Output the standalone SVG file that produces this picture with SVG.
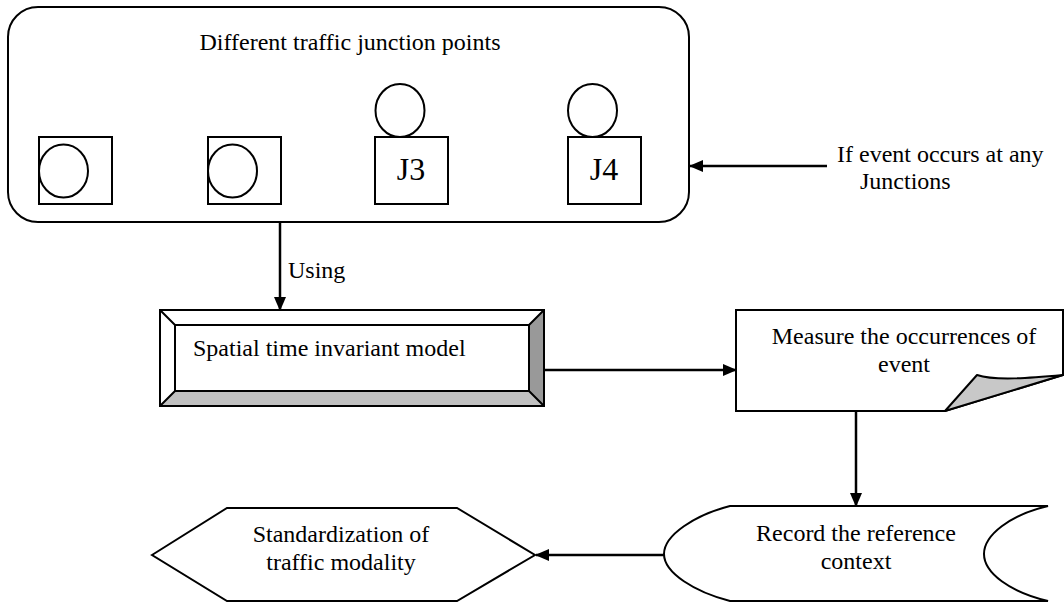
<svg xmlns="http://www.w3.org/2000/svg" width="1064" height="603" viewBox="0 0 1064 603">
<defs>
<style>
.s{fill:#fff;stroke:#000;stroke-width:2}
.n{fill:none;stroke:#000;stroke-width:2}
.t{font-family:"Liberation Serif","Times New Roman",serif;font-size:24px;fill:#000}
.c{text-anchor:middle}
.j{font-size:32px}
.e{stroke:#000;stroke-width:2.5;fill:none}
</style>
<marker id="ah" markerWidth="14" markerHeight="12" refX="13" refY="6" orient="auto" markerUnits="userSpaceOnUse">
<path d="M0,0 L14,6 L0,12 Z" fill="#000"/>
</marker>
</defs>
<rect width="1064" height="603" fill="#fff"/>
<g id="junctions">
<rect class="s" x="8" y="7" width="681" height="215" rx="30" ry="30"/>
<text class="t c" x="350" y="50">Different traffic junction points</text>
<g id="j1"><rect class="s" x="39" y="137" width="73" height="67"/><ellipse class="s" cx="63.5" cy="171" rx="24.5" ry="26.5"/></g>
<g id="j2"><rect class="s" x="208" y="137" width="73" height="67"/><ellipse class="s" cx="232.5" cy="171" rx="24.5" ry="26.5"/></g>
<g id="j3"><rect class="s" x="375" y="137" width="73" height="67"/><ellipse class="s" cx="400" cy="110.5" rx="24.5" ry="26.5"/><text class="t c j" x="411" y="180">J3</text></g>
<g id="j4"><rect class="s" x="568" y="137" width="73" height="67"/><ellipse class="s" cx="592.5" cy="110.5" rx="24.5" ry="26.5"/><text class="t c j" x="604" y="180">J4</text></g>
</g>
<g id="event-label">
<text class="t" x="837" y="162">If event occurs at any</text>
<text class="t" x="860" y="189">Junctions</text>
</g>
<g id="using-label"><text class="t" x="288" y="278">Using</text></g>
<g id="spatial">
<rect x="160" y="310" width="384" height="96" fill="#fff" stroke="none"/>
<polygon points="529,325 544,310 544,406 529,391" fill="#999"/>
<polygon points="175,391 529,391 544,406 160,406" fill="#c0c0c0"/>
<rect class="n" x="160" y="310" width="384" height="96"/>
<rect class="n" x="175" y="325" width="354" height="66"/>
<path class="n" d="M160,310 L175,325 M544,310 L529,325 M544,406 L529,391 M160,406 L175,391"/>
<text class="t" x="193" y="356">Spatial time invariant model</text>
</g>
<g id="measure">
<path class="s" d="M736,310 H1063 V375 L945,411 H736 Z"/>
<path d="M945,411 L977,375 C995,381 1030,378 1063,375 Z" fill="#c8c8c8" stroke="#000" stroke-width="2" stroke-linejoin="round"/>
<text class="t c" x="904" y="344">Measure the occurrences of</text>
<text class="t c" x="904" y="372">event</text>
</g>
<g id="record">
<path class="s" d="M730,506 H1048 C1010,515 984,535 984,554 C984,573 1010,592 1048,601 H730 C695,592 664,573 664,554 C664,535 695,515 730,506 Z"/>
<text class="t c" x="856" y="541">Record the reference</text>
<text class="t c" x="856" y="569">context</text>
</g>
<g id="standard">
<polygon class="s" points="152,555 227,508 457,508 535,555 457,601 227,601"/>
<text class="t c" x="341" y="542">Standardization of</text>
<text class="t c" x="341" y="570">traffic modality</text>
</g>
<g id="connectors">
<line class="e" x1="827" y1="166" x2="690" y2="166" marker-end="url(#ah)"/>
<line class="e" x1="280" y1="223" x2="280" y2="310" marker-end="url(#ah)"/>
<line class="e" x1="544" y1="370" x2="736" y2="370" marker-end="url(#ah)"/>
<line class="e" x1="856" y1="411" x2="856" y2="506" marker-end="url(#ah)"/>
<line class="e" x1="664" y1="555" x2="536" y2="555" marker-end="url(#ah)"/>
</g>
</svg>
